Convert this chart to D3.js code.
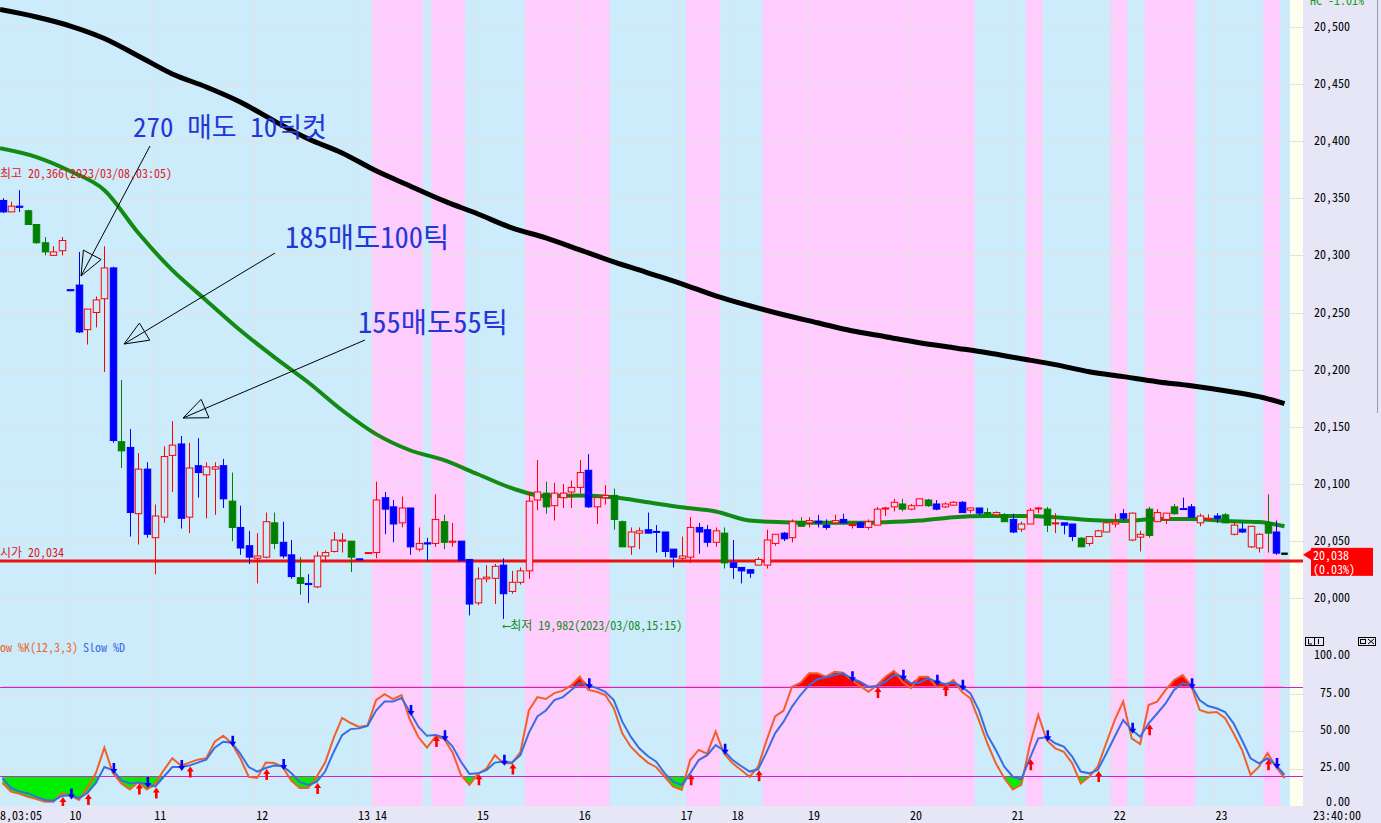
<!DOCTYPE html>
<html><head><meta charset="utf-8">
<script src="https://cdn.jsdelivr.net/npm/d3@7"></script>
<style>
body{margin:0;overflow:hidden;background:#fff}
svg{display:block}
text{font-family:"Noto Sans Mono CJK KR","Noto Sans CJK KR","DejaVu Sans Mono",monospace}
</style>
</head><body><svg></svg>
<script>
const W = 1381, H = 823;

// ---- candles (tick chart) ----
const open = [20348,20338,20343,20339,20327,20311,20300,20304,20270,20274,20235,20250,20262,20289,20137,20132,20074,20113,20053,20071,
20125,20135,20071,20116,20108,20113,20116,20085,20062,20046,20035,20036,20066,20049,20038,20018,20013,20010,20037,20041,
20050,20050,20034.5,20039.5,20040,20088,20080,20066,20079,20043,20048.5,20048,20067,20049,20050,20034,19996,20017,20017.5,20029,
20006,20014,20024,20086,20092,20081,20088,20093,20097,20112,20080,20088,20090,20067,20045,20057,20060,20058.5,20058,20043,
20035,20036,20062,20060,20049,20057,20031,20027,20025,20029,20029,20048,20057,20053,20067,20066,20067.5,20064,20066,20069,
20064,20066,20062,20064,20078.5,20080,20082.5,20078,20081,20086,20082.5,20080,20081.5,20084,20077,20079,20075,20073,20073,20069,
20060.5,20065,20078.5,20078,20065.5,20066,20065,20052.6,20048,20054,20058,20065,20070,20074.5,20053.5,20055,20075,20069,20074,20078.5,
20080,20072,20069,20070,20073,20064,20058,20063,20044,20057,20058,20040];
const high = [20350,20347,20357,20340,20327,20316,20308,20316,20270,20303,20253,20264,20308,20290,20191,20148,20127,20119,20082,20133,
20155,20142,20136,20140,20119,20119,20122,20110,20081,20059,20057,20075,20075,20067,20051,20036,20021,20041,20042,20058,
20057,20050,20034.5,20040,20102,20093,20086,20089,20079,20062,20053,20091,20073,20066,20050,20034,20027,20029,20030,20035,
20024,20027,20093,20121,20102,20101,20100,20103,20121,20126,20088,20099,20096,20068,20062,20062,20075,20064,20058,20043,
20054,20071,20066,20064,20062,20062,20051,20027,20025,20036,20060,20056,20058,20069,20071,20071,20073,20069,20073,20074,
20066,20067,20069,20080,20080,20087,20087,20082.5,20087,20087,20086,20084,20085,20085,20079,20079,20079,20076,20074.5,20074,
20067,20079,20080,20080,20074.5,20066,20065,20053.5,20054,20060,20067.5,20074,20078,20075,20059,20080,20078,20074.5,20082.5,20088,
20082.5,20074,20073.5,20074.5,20074.5,20066.7,20066,20063,20057,20091,20068,20064];
const low = [20337,20338,20338,20327,20310,20300,20300,20300,20269,20232,20222,20237,20198,20136,20114,20054,20047,20053,20021,20066,
20093,20061,20057,20088,20070,20073,20079,20050,20038,20030,20013,20035,20043,20035,20017,20003,19996,20009,20033,20040,
20040,20023,20034,20039.5,20035,20056,20049,20062,20038,20041,20033,20045,20043,20045,20033,19985,19994,20014,19995,19982,
20004,20012,20017,20077,20074,20068,20079,20079,20092,20079,20065,20082,20060,20045,20038,20043,20057,20040,20036,20027,
20032,20031,20039,20045,20045,20026,20017,20013,20018,20029,20026,20046,20050,20049,20063,20062,20062,20060,20066,20066,
20061,20062,20060,20064,20072,20076,20076,20077,20081,20080,20077,20079,20081,20075,20074.5,20073,20073,20073,20067,20057,
20058,20065,20074.5,20058,20057,20056,20050,20045,20045.6,20054,20058,20062,20068,20050,20041,20053,20067,20065,20073,20078,
20071,20063,20068,20066,20066,20055,20057,20044,20040,20040,20038,20030];
const close = [20338,20343,20342,20327,20311,20303,20303,20313,20269,20233,20253,20261,20289,20138,20129,20075,20113,20056,20072,20124,
20134,20070,20114,20110,20115,20115,20087,20062,20044,20036,20037,20067,20048,20037,20019,20013,20012,20037,20040,20051,
20051,20036,20034,20040,20086,20078,20065,20079,20045,20048,20047.5,20069,20049,20050,20033,19995,20017,20018.5,20028,20004,
20014,20024,20085,20093,20080,20092,20092,20097,20110,20080,20088,20090,20069,20045,20058,20059,20057,20058,20041,20036,
20037,20062,20058,20049,20059,20031,20027,20024,20022,20034,20051,20056,20052,20067,20063,20068,20066,20062,20068,20066,
20064.5,20062,20067,20078,20079,20084,20078,20081,20087,20081,20078,20082.5,20084,20075,20079,20074.5,20074,20075,20067,20058,
20065,20077,20079,20064,20066,20064,20054,20045,20054,20059,20066,20066.7,20074,20051,20056,20078,20067,20074.5,20080,20078,
20071,20066,20070,20072,20066,20056,20060.5,20045,20056,20066,20039.5,20038];
// r = rising (hollow red), b = falling (blue), g = falling (green)
const kind = "brbgggrrbbrrrbgbrbrrrbrbrrbgbbrrgbbgbrrrrgbrrbbrbrbrgrbbrrrbrrrrgrrrrbrrggrrbbbbrrbbrgbbbrrrbrgrbbrbrbrrrrgrrgbrrbrbgrgbrrrgrbbgrrrrbrrgrrgbbrrbgrbrrgb".split("");

// moving averages, sampled on candle index
const maIdx = [0,4,8,12,16,20,24,28,32,36,40,44,48,52,56,60,64,68,72,76,80,84,88,92,96,100,104,108,112,116,120,124,128,132,136,140,144,148,151];
const maLong = [20515,20508.5,20500.6,20489.7,20474.4,20458.7,20447.3,20434.2,20417.6,20401.9,20389.6,20373.9,20360.7,20347.6,20336.2,20324,20315.3,20304.8,20294.3,20284.7,
20275.1,20264.6,20255.9,20248,20241,20234,20228.8,20223.6,20219.2,20214.8,20209.6,20204.4,20198.2,20193.9,20189.5,20186,20181.6,20176.4,20170.3];
const maMid = [20393.7,20386,20373.6,20357,20319.5,20287,20260.6,20234.5,20211,20189,20164.5,20143.6,20129.5,20120.8,20108.5,20096.3,20089.3,20090,20088.4,20084,
20079.6,20076,20068,20066.5,20066,20066,20066.5,20068,20071,20072,20072,20071,20068.5,20067.6,20069.4,20069.4,20067.6,20066.7,20063];

const openPrice = 20034;
const pinkRanges = [[44,49],[51,54],[62,71],[81,84],[90,114],[121,122],[131,132],[135,140],[149,150]];

const timeIdx = [8,18,30,42,44,56,68,80,86,95,107,119,131,143];
const timeLabels = ["10","11","12","13","14","15","16","17","18","19","20","21","22","23"];
const priceTicks = [20000,20050,20100,20150,20200,20250,20300,20350,20400,20450,20500];
const stochTicks = [0,25,50,75,100];

// ---- slow stochastic (12,3,3) ----
const slowK = [15.3,9.5,8,6,4.5,2.7,2.7,8.5,7,3.9,12,22,39,22,15,11,16,11,15,24,32,27,29,31,32,43,47,42,32,19.5,18.7,29,28.7,26,17,12,12,19.5,29,45.5,
59,55.6,53,54,71,75,71.7,74.4,57.6,46,39,46.4,45,36,20.7,14,21.4,25,34,28.5,28.5,36,64,73,71.7,75.7,77.3,81,86.7,77.8,
76.6,74.4,65.5,48.7,39.7,34,29,25.9,19.5,12.8,10.6,30.7,37.5,35,49.8,35,28.5,24,19.5,26.3,44,60,64,80,82.7,89,89,86.7,90,89.4,
84.5,80.5,76.6,81,86.7,90.7,83.3,79,86.7,86.7,80,80,84.5,76.6,72.2,57.6,42,28.5,18.5,11,14,40.8,61,44,38.6,36.3,28.5,15,19.5,26.3,
42,57.6,70,45.3,41.5,67.7,70,77.8,84.5,87.8,81,64.3,62.5,63,58.8,48.7,37.5,20.7,26.3,35.3,26.3,18.5];
const slowD = [18.5,12,9.5,8.5,6,3.9,3.4,6.6,7,5.2,8.6,15.3,26,24,17,15,15.6,14.6,13,19.5,26,26,27,29,31,39,43,42.4,35,26,23,25.4,27,26.7,22,16,14,16,23,36,
47.5,51.5,52,53.6,64,70,70,72.4,63,53,47,47.5,46,40,29.6,21.4,21.8,24,29,29.6,29,34,49,60,64,71,73,77.8,82.3,81,
79,76.6,71,56.5,46.4,38.6,33.4,29.6,21.8,16.2,14,21.8,30.7,34,40.8,37,30.7,26.7,23,24.5,36,48.7,56.5,66.6,74.4,81,85,86.3,87.8,89,
85.6,83.3,80,80.5,83.3,87.8,86.7,82.3,82.7,85.6,83.3,81.8,82.7,80,75.5,64.3,47.5,37.5,26.3,19.5,17.8,31.9,45.3,46,42,39.7,33,23,21.8,24,
35,46.4,57.6,51,46.4,55.4,62,68.8,77.8,82.3,81,71,67,65.5,63,55.4,44,31.9,28.5,31.9,27.4,20.7];
const goldenIdx = [7,10,16,18,22,31,37,51,56,60,81,89,103,111,121,129,135,149];
const deadIdx = [8,13,17,21,27,33,48,52,59,69,85,100,106,110,113,123,133,140,150];

// ---- layout ----
const plotR = 1303, dataEnd = 1290, axisBottom = 806;
const n = open.length;
const step = 8.49;
const xc = d3.scaleLinear().domain([0, n - 1]).range([2.5, 2.5 + (n - 1) * step]);
const yP = d3.scaleLinear().domain([20000, 20500]).range([598.3, 26.7]);
const yS = d3.scaleLinear().domain([0, 100]).range([805.8, 656.9]);

const colors = { r: "#ff0000", b: "#0000ff", g: "#008000" };
const bgBlue = "#ccecfc", bgPink = "#ffcdfd";

const svg = d3.select("svg").attr("width", W).attr("height", H);

// backgrounds
svg.append("rect").attr("width", W).attr("height", H).attr("fill", "#e6e6f6");
svg.append("rect").attr("x", 0).attr("y", 0).attr("width", dataEnd).attr("height", axisBottom).attr("fill", bgBlue);
svg.append("rect").attr("x", dataEnd).attr("y", 0).attr("width", plotR - dataEnd).attr("height", axisBottom).attr("fill", "#fffff0");
svg.selectAll("rect.pink").data(pinkRanges).join("rect")
    .attr("class", "pink")
    .attr("x", d => xc(d[0] - 0.5))
    .attr("width", d => xc(d[1] + 0.5) - xc(d[0] - 0.5))
    .attr("y", 0).attr("height", axisBottom)
    .attr("fill", bgPink);

// grid
const grid = svg.append("g").attr("stroke", "#e2e2e2").attr("stroke-width", 1);
grid.selectAll("line.h").data(priceTicks).join("line")
    .attr("x1", 0).attr("x2", plotR)
    .attr("y1", d => Math.round(yP(d)) + 0.5).attr("y2", d => Math.round(yP(d)) + 0.5);
grid.selectAll("line.s").data([25, 50, 75]).join("line")
    .attr("class", "s")
    .attr("x1", 0).attr("x2", plotR)
    .attr("y1", d => Math.round(yS(d)) + 0.5).attr("y2", d => Math.round(yS(d)) + 0.5);
grid.selectAll("line.v").data(timeIdx).join("line")
    .attr("class", "v")
    .attr("x1", d => Math.round(xc(d) - 2.5) + 0.5).attr("x2", d => Math.round(xc(d) - 2.5) + 0.5)
    .attr("y1", 0).attr("y2", axisBottom);

// moving averages
const maLine = vals => d3.line()
    .x((d, i) => i === 0 ? 0 : xc(d))
    .y((d, i) => yP(vals[i]))
    .curve(d3.curveMonotoneX)(maIdx);
svg.append("path").attr("d", maLine(maLong)).attr("fill", "none")
    .attr("stroke", "#000").attr("stroke-width", 5);
svg.append("path").attr("d", maLine(maMid)).attr("fill", "none")
    .attr("stroke", "#138a13").attr("stroke-width", 4);

// open price line
svg.append("line").attr("x1", 0).attr("x2", plotR)
    .attr("y1", yP(openPrice) + 1.5).attr("y2", yP(openPrice) + 1.5)
    .attr("stroke", "#ee1111").attr("stroke-width", 3);

// candles
const bw = 6.5;
function bgFill(i) {
    return pinkRanges.some(r => i >= r[0] && i <= r[1]) ? bgPink : bgBlue;
}
const cg = svg.append("g").selectAll("g").data(d3.range(n)).join("g");
cg.append("line")
    .attr("x1", i => Math.round(xc(i)) + 0.5).attr("x2", i => Math.round(xc(i)) + 0.5)
    .attr("y1", i => yP(high[i])).attr("y2", i => yP(low[i]))
    .attr("stroke", i => colors[kind[i]]).attr("stroke-width", 1);
cg.append("rect")
    .attr("x", i => Math.round(xc(i)) + 0.5 - bw / 2)
    .attr("width", bw)
    .attr("y", i => yP(Math.max(open[i], close[i])))
    .attr("height", i => Math.max(1, Math.abs(yP(open[i]) - yP(close[i]))))
    .attr("fill", i => kind[i] === "r" ? bgFill(i) : colors[kind[i]])
    .attr("stroke", i => colors[kind[i]]).attr("stroke-width", 1);

// annotations
const ann = svg.append("g");
function annArrow(x1, y1, x2, y2) {
    ann.append("line").attr("x1", x1).attr("y1", y1).attr("x2", x2).attr("y2", y2)
        .attr("stroke", "#000").attr("stroke-width", 1);
    const dx = x2 - x1, dy = y2 - y1, L = Math.hypot(dx, dy);
    const ux = dx / L, uy = dy / L, len = 24, hw = 10;
    const bx = x2 - ux * len, by = y2 - uy * len;
    ann.append("path")
        .attr("d", `M${x2},${y2}L${bx - uy * hw},${by + ux * hw}L${bx + uy * hw},${by - ux * hw}Z`)
        .attr("fill", "none").attr("stroke", "#000").attr("stroke-width", 1);
}
annArrow(150, 146, 81, 276);
annArrow(275, 253, 124, 344);
annArrow(365, 340, 183, 418);
const annText = [["270 매도 10틱컷", 133, 137, 27], ["185매도100틱", 285, 248, 28.5], ["155매도55틱", 358, 333, 28.5]];
ann.selectAll("text").data(annText).join("text")
    .attr("x", d => d[1]).attr("y", d => d[2])
    .attr("font-size", d => d[3]).attr("font-weight", 300)
    .attr("fill", "#2536d6").text(d => d[0]);

svg.append("text").attr("x", 0).attr("y", 178)
    .attr("font-size", 12).attr("fill", "#e01818")
    .text("최고 20,366(2023/03/08,03:05)");
svg.append("text").attr("x", 0).attr("y", 557)
    .attr("font-size", 12).attr("fill", "#e01818")
    .text("시가 20,034");
svg.append("text").attr("x", 503).attr("y", 630)
    .attr("font-size", 12).attr("fill", "#158a15")
    .text("⟵최저 19,982(2023/03/08,15:15)");

// ---- stochastic panel ----
const stoch = svg.append("g");
const clipLow = svg.append("clipPath").attr("id", "clipLow");
clipLow.append("rect").attr("x", 0).attr("y", yS(20)).attr("width", dataEnd).attr("height", 40);
const clipHigh = svg.append("clipPath").attr("id", "clipHigh");
clipHigh.append("rect").attr("x", 0).attr("y", yS(100)).attr("width", dataEnd).attr("height", yS(80) - yS(100));

const lowArea = d3.area().x((d, i) => xc(i)).y0(yS(20)).y1(d => yS(d));
stoch.append("path").attr("d", lowArea(slowK.map((k, i) => Math.min(k, slowD[i]))))
    .attr("fill", "#00ee00").attr("clip-path", "url(#clipLow)");
const highArea = d3.area().x((d, i) => xc(i)).y0(yS(80)).y1(d => yS(d));
stoch.append("path").attr("d", highArea(slowK.map((k, i) => Math.max(k, slowD[i]))))
    .attr("fill", "#ff0000").attr("clip-path", "url(#clipHigh)");

stoch.selectAll("line.lim").data([20, 80]).join("line")
    .attr("x1", 0).attr("x2", plotR)
    .attr("y1", d => Math.round(yS(d)) + 0.5).attr("y2", d => Math.round(yS(d)) + 0.5)
    .attr("stroke", "#d020d0").attr("stroke-width", 1);

const sLine = d3.line().x((d, i) => xc(i)).y(d => yS(d));
stoch.append("path").attr("d", sLine(slowK)).attr("fill", "none")
    .attr("stroke", "#f0602a").attr("stroke-width", 2);
stoch.append("path").attr("d", sLine(slowD)).attr("fill", "none")
    .attr("stroke", "#3a6ee0").attr("stroke-width", 2);

const upArrow = (x, y) => `M${x},${y}L${x + 3.5},${y + 5}L${x + 1.3},${y + 5}L${x + 1.3},${y + 11}L${x - 1.3},${y + 11}L${x - 1.3},${y + 5}L${x - 3.5},${y + 5}Z`;
const downArrow = (x, y) => `M${x},${y}L${x + 3.5},${y - 5}L${x + 1.3},${y - 5}L${x + 1.3},${y - 11}L${x - 1.3},${y - 11}L${x - 1.3},${y - 5}L${x - 3.5},${y - 5}Z`;
stoch.selectAll("path.up").data(goldenIdx).join("path")
    .attr("d", i => upArrow(xc(i) + 1, yS(slowD[i]) + 1)).attr("fill", "#ff0000");
stoch.selectAll("path.dn").data(deadIdx).join("path")
    .attr("d", i => downArrow(xc(i) + 1, yS(slowD[i]) + 4)).attr("fill", "#0000ff");

stoch.append("text").attr("x", 0).attr("y", 652).attr("font-size", 12).attr("fill", "#e8682a")
    .text("ow %K(12,3,3)");
stoch.append("text").attr("x", 83).attr("y", 652).attr("font-size", 12).attr("fill", "#3a6ee0")
    .text("Slow %D");

// ---- axes ----
svg.append("rect").attr("x", plotR).attr("y", 0).attr("width", W - plotR).attr("height", H).attr("fill", "#e6e6f6");
svg.append("rect").attr("x", 0).attr("y", axisBottom).attr("width", W).attr("height", H - axisBottom).attr("fill", "#e6e6f6");
svg.append("line").attr("x1", 1377.5).attr("x2", 1377.5).attr("y1", 0).attr("y2", 413).attr("stroke", "#9a9aa8");

const axisText = svg.append("g").attr("font-size", 12).attr("fill", "#000").attr("text-anchor", "end");
axisText.selectAll("text.p").data(priceTicks).join("text")
    .attr("class", "p").attr("x", 1350).attr("y", d => yP(d) + 4)
    .text(d => d3.format(",")(d));
axisText.selectAll("text.s").data(stochTicks).join("text")
    .attr("class", "s").attr("x", 1350).attr("y", d => Math.min(yS(d) - 2, 801) + 4.5)
    .text(d => d.toFixed(2));

svg.append("g").attr("font-size", 12).selectAll("text").data(timeIdx).join("text")
    .attr("x", d => xc(d) - 1).attr("y", 820).text((d, i) => timeLabels[i]);
svg.append("text").attr("x", 0).attr("y", 820).attr("font-size", 12).text("8,03:05");
svg.append("text").attr("x", 1313).attr("y", 820).attr("font-size", 12).text("23:40:00");

svg.append("text").attr("x", 1310).attr("y", 5).attr("font-size", 12).attr("fill", "#1a9a1a").text("HC  -1.01%");

// current price tag
const last = close[n - 1];
const tagY = yP(last);
svg.append("path").attr("d", `M1303,${tagY}L1311,${tagY - 5}L1311,${tagY + 5}Z`).attr("fill", "#ff0000");
svg.append("rect").attr("x", 1311).attr("y", tagY - 7).attr("width", 62).attr("height", 28).attr("fill", "#ff0000");
svg.append("text").attr("x", 1313).attr("y", tagY + 5.5).attr("font-size", 12).attr("fill", "#fff").text(d3.format(",")(last));
svg.append("text").attr("x", 1313).attr("y", tagY + 19).attr("font-size", 12).attr("fill", "#fff").text("(0.03%)");

// panel buttons
const btn = svg.append("g").attr("fill", "none").attr("stroke", "#000").attr("stroke-width", 1);
btn.append("rect").attr("x", 1305.5).attr("y", 637.5).attr("width", 18).attr("height", 8);
btn.append("line").attr("x1", 1314.5).attr("x2", 1314.5).attr("y1", 637.5).attr("y2", 645.5);
btn.append("path").attr("d", "M1308.5,639V644H1312M1318.5,639V644");
btn.append("rect").attr("x", 1358.5).attr("y", 637.5).attr("width", 17).attr("height", 8);
btn.append("rect").attr("x", 1360.5).attr("y", 639.5).attr("width", 5).attr("height", 4);
btn.append("path").attr("d", "M1368,639L1374,644M1374,639L1368,644");
</script>
</body></html>
